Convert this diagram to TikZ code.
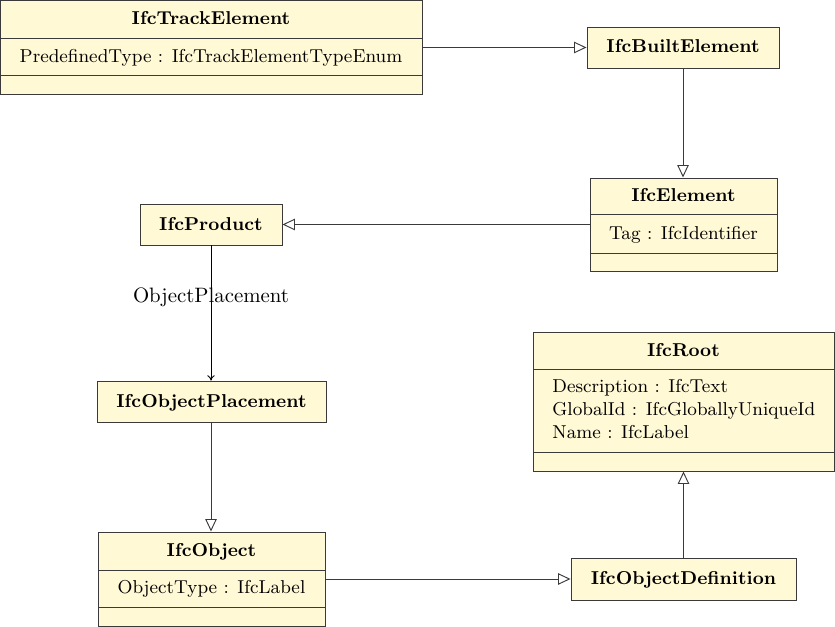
\documentclass[tikz,border=0pt]{standalone}
\usetikzlibrary{arrows.meta,fit}
\definecolor{boxfill}{HTML}{FFF9D5}
\definecolor{boxline}{HTML}{3A3A3A}
\newcommand{\boxfont}{\fontsize{8.95}{11}\selectfont}
\begin{document}
\begin{tikzpicture}[x=0.48pt,y=-0.48pt,
  cls/.style={draw=boxline, fill=boxfill, inner sep=0pt, line width=0.45pt},
  sep/.style={draw=boxline, line width=0.45pt},
  ttl/.style={font=\boxfont\bfseries, inner sep=0pt, anchor=base},
  attr/.style={font=\boxfont, inner sep=0pt, anchor=base},
  inh/.style={draw=boxline, line width=0.45pt, -{Triangle[open,length=6pt,width=5.5pt]}},
  assoc/.style={draw=black, line width=0.45pt, -{To[length=2.5pt,width=3.5pt]}}]
\useasboundingbox (0,0) rectangle (835,627);

% IfcTrackElement
\node[cls, fit={(0,0)(422,94)}] (te) {};
\draw[sep] (0,38) -- (422,38) (0,75) -- (422,75);
\node[ttl] (teT) at (211,24.5) {IfcTrackElement};
\node[attr] (teA) at (211,62.5) {PredefinedType : IfcTrackElementTypeEnum};

% IfcBuiltElement
\node[cls, fit={(587,27)(779,68)}] (be) {};
\node[ttl] (beT) at (683,52.5) {IfcBuiltElement};

% IfcElement
\node[cls, fit={(590,178)(777,271)}] (el) {};
\draw[sep] (590,214) -- (777,214) (590,253) -- (777,253);
\node[ttl] (elT) at (683.5,201.5) {IfcElement};
\node[attr] (elA) at (683.5,239.5) {Tag : IfcIdentifier};

% IfcProduct
\node[cls, fit={(140,204)(282,245)}] (pr) {};
\node[ttl] (prT) at (211,230.5) {IfcProduct};

% IfcObjectPlacement
\node[cls, fit={(97,381)(326,422)}] (op) {};
\node[ttl] (opT) at (211.5,407.5) {IfcObjectPlacement};

% IfcObject
\node[cls, fit={(98,532)(325,626)}] (ob) {};
\draw[sep] (98,570) -- (325,570) (98,607) -- (325,607);
\node[ttl] (obT) at (211.5,556.5) {IfcObject};
\node[attr] (obA) at (211.5,593.5) {ObjectType : IfcLabel};

% IfcRoot
\node[cls, fit={(533,332)(834,471)}] (rt) {};
\draw[sep] (533,369) -- (834,369) (533,452) -- (834,452);
\node[ttl] (rtT) at (683.5,356.5) {IfcRoot};
\node[attr, anchor=base west] (rtA) at (552,392.5) {Description : IfcText};
\node[attr, anchor=base west] (rtB) at (552,415.5) {GlobalId : IfcGloballyUniqueId};
\node[attr, anchor=base west] (rtC) at (552,438.5) {Name : IfcLabel};

% IfcObjectDefinition
\node[cls, fit={(571,558)(796,600)}] (od) {};
\node[ttl] (odT) at (683.5,584.5) {IfcObjectDefinition};

% generalisations
\draw[inh] (te.east |- be.west) -- (be.west);
\draw[inh] (be.south) -- (be.south |- el.north);
\draw[inh] (el.west |- pr.east) -- (pr.east);
\draw[inh] (op.south -| pr.south) -- (pr.south |- ob.north);
\draw[inh] (ob.east |- od.west) -- (od.west);
\draw[inh] (od.north) -- (od.north |- rt.south);

% association
\draw[assoc] (pr.south) -- (pr.south |- op.north);
\node[inner sep=0pt, anchor=base] (opL) at (211,303) {ObjectPlacement};
\end{tikzpicture}
\end{document}
